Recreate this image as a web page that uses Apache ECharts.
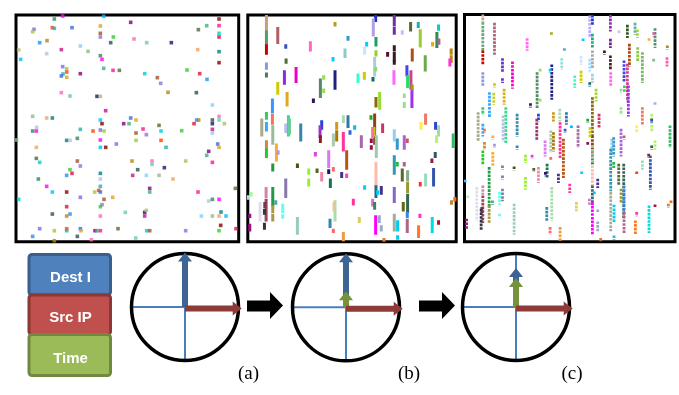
<!DOCTYPE html>
<html><head><meta charset="utf-8">
<script src="https://cdn.jsdelivr.net/npm/echarts@6/dist/echarts.min.js"></script>
<style>html,body{margin:0;padding:0;background:#fff}#c{width:679px;height:395px}</style>
</head><body><div id="c"></div>
<script>
// ---------- DATA ----------
// Panel (a): individual events [time, ip]
const panelA = [[163,57],[188,48],[311,49],[657,57],[102,88],[98,95],[157,83],[163,85],[216,83],[301,78],[392,67],[620,77],[657,77],[595,89],[657,100],[301,100],[301,111],[340,111],[657,111],[119,128],[141,122],[332,128],[402,117],[440,128],[514,128],[56,150],[184,149],[241,138],[264,154],[593,149],[657,155],[140,161],[301,167],[306,178],[62,178],[657,188],[188,200],[200,206],[200,216],[189,222],[184,228],[200,232],[241,221],[311,205],[339,211],[358,211],[434,221],[472,233],[482,250],[561,210],[599,221],[621,238],[504,277],[589,278],[184,278],[210,288],[291,289],[301,289],[317,332],[637,315],[98,349],[140,354],[157,354],[110,382],[98,393],[109,393],[301,360],[306,371],[301,390],[312,393],[279,393],[241,388],[392,354],[408,360],[371,371],[387,371],[429,387],[477,376],[483,393],[408,399],[439,404],[545,392],[582,371],[590,360],[596,360],[637,360],[657,349],[657,360],[637,371],[673,371],[637,388],[637,399],[50,420],[109,442],[200,421],[210,421],[232,415],[301,420],[301,442],[317,442],[349,432],[408,421],[483,421],[498,442],[653,432],[657,442],[626,454],[620,466],[637,487],[109,475],[119,487],[232,483],[241,498],[210,509],[216,520],[200,526],[396,483],[413,509],[456,483],[456,493],[493,503],[557,483],[398,526],[439,526],[477,526],[519,537],[301,520],[301,537],[115,537],[140,559],[157,576],[200,576],[241,592],[284,576],[296,571],[301,559],[301,576],[338,592],[449,565],[449,576],[594,576],[706,565],[56,598],[312,598],[306,614],[301,620],[200,620],[210,642],[200,648],[157,642],[301,648],[376,637],[434,637],[439,631],[434,648],[604,648],[637,648],[657,648],[663,636],[626,603],[637,598],[657,598],[678,648],[662,676],[119,686],[163,692],[200,686],[200,692],[241,686],[243,692],[285,692],[291,692],[301,692],[354,686],[440,692],[449,692],[557,692],[657,692],[708,686],[98,709],[163,722],[232,709],[274,719],[407,714]];

// Panel (b): compressed event runs [time, ipStart, ipEnd]
const panelB = [[79,45,88],[79,95,132],[79,137,160],[113,85,128],[137,137,142],[211,128,150],[285,70,75],[324,112,118],[380,130,135],[407,48,62],[400,60,105],[408,115,135],[463,45,75],[463,85,100],[487,95,100],[512,70,90],[535,70,80],[541,92,110],[541,117,138],[596,78,88],[591,100,140],[597,120,130],[578,130,135],[634,150,160],[634,170,185],[630,180,195],[138,180,187],[279,175,180],[315,150,170],[374,145,160],[408,155,165],[443,160,166],[463,140,150],[463,160,180],[463,185,190],[517,150,180],[556,170,210],[79,192,205],[79,222,228],[168,205,245],[133,215,250],[113,250,280],[141,280,315],[241,240,290],[251,230,235],[251,270,275],[220,300,305],[285,215,265],[354,225,245],[373,220,235],[399,235,240],[404,175,225],[407,205,210],[462,215,250],[501,200,225],[503,230,260],[513,215,265],[517,258,268],[516,275,320],[493,285,290],[493,310,320],[419,280,325],[408,295,318],[97,300,335],[79,340,355],[79,370,390],[97,345,370],[65,360,405],[98,380,430],[137,375,395],[145,350,405],[148,360,400],[182,375,420],[245,365,385],[240,380,410],[241,410,425],[290,370,385],[290,395,420],[310,350,365],[324,350,380],[330,395,400],[344,380,385],[393,350,355],[404,345,430],[402,385,405],[398,385,410],[428,375,395],[409,410,470],[394,420,425],[394,440,445],[463,392,420],[472,420,445],[493,410,445],[502,420,425],[557,345,370],[543,370,385],[587,370,385],[596,380,405],[590,410,425],[640,405,440],[79,425,445],[79,450,470],[109,435,480],[114,455,460],[280,405,435],[310,400,450],[320,455,505],[364,410,440],[226,460,465],[266,455,500],[172,495,500],[98,495,510],[206,510,520],[206,540,555],[231,510,515],[245,520,540],[266,512,518],[271,540,560],[280,505,510],[305,520,530],[320,525,530],[408,490,555],[408,560,590],[413,575,580],[424,562,580],[374,560,565],[463,470,520],[472,490,495],[487,510,540],[493,490,495],[503,515,540],[503,550,575],[503,585,635],[490,610,630],[541,550,555],[557,525,555],[581,508,555],[576,480,485],[586,460,470],[463,565,605],[137,540,590],[98,565,615],[107,605,610],[98,620,635],[98,645,660],[78,565,590],[78,600,660],[74,610,620],[60,610,660],[73,630,640],[73,672,685],[29,645,650],[29,675,690],[33,580,585],[25,590,595],[128,615,635],[128,647,652],[172,655,700],[270,660,680],[280,690,695],[285,605,660],[282,610,630],[340,600,612],[358,655,665],[398,600,615],[404,610,625],[407,650,700],[418,650,665],[424,680,690],[463,645,690],[473,665,690],[502,640,650],[502,660,695],[473,710,715],[540,645,650],[536,680,710],[577,655,695],[596,665,670],[310,700,720],[432,718,722],[635,605,610],[645,595,600]];
const panelBColors = ['#c8a07a','#5a9a6a','#cc0000','#b06060','#3355bb','#ff66cc','#b0a020','#3399cc','#00ccff','#2030c0','#b0a0e0','#20a060','#7030a0','#7030a0','#c0c0ff','#556b2f','#20b2aa','#9acd32','#9acd32','#00cccc','#2e8b57','#b06090','#ffa500','#b8860b','#b8860b','#ff33cc','#556b2f','#00ccff','#88cccc','#cce0ff','#9acd32','#551133','#3a1a1a','#3a1a1a','#3a1a1a','#b05010','#6aaa4a','#8899dd','#557755','#ee00cc','#8a2be2','#cccc00','#ddaa22','#558866','#99dd55','#99dd55','#331155','#202080','#33ffcc','#cccc00','#116666','#aaccdd','#88dd66','#ff66ff','#4444ee','#22dd66','#cc4488','#99aa00','#9933ee','#99dd99','#99dd99','#99dd33','#8b6914','#3399ff','#33cc66','#33aaff','#ee7755','#aaaa88','#99bb99','#bbbbee','#33dd88','#66cc99','#3388aa','#2244dd','#9933cc','#882222','#cc9922','#aa7700','#aaddaa','#3377aa','#3366cc','#00bbff','#22aa22','#8b4513','#cccc00','#ee77aa','#cc3366','#99ccaa','#991144','#991144','#99ccee','#3399cc','#aa66cc','#cc5566','#ee7766','#ffee44','#3344cc','#99ddaa','#bbee77','#33bb66','#cc8844','#22cc22','#ffaa33','#aa99dd','#aaccaa','#ff3399','#bb5511','#aa66aa','#dd44dd','#dd77ee','#445511','#229944','#99ee33','#99ee33','#556622','#ee88aa','#221166','#117755','#ff6666','#443388','#ff44bb','#ffbbaa','#336677','#00ccff','#443388','#00ccff','#3399aa','#22bb44','#556b2f','#aa6688','#88aa88','#999933','#336655','#666611','#ff3333','#99ddbb','#3355aa','#882244','#335566','#8866bb','#8877aa','#229944','#44aa99','#aa9944','#aa9944','#cc88aa','#994455','#773355','#ddddee','#333344','#333344','#991188','#991188','#99ff99','#aaddff','#66ffee','#66ffee','#99ccbb','#3388aa','#ff6666','#aaddaa','#ddcc99','#ff3399','#ddcc66','#cc77cc','#338855','#ff00ff','#99aacc','#99aacc','#aaaa99','#00ccee','#3388ee','#aa6688','#00ccee','#ff33cc','#ff7722','#00dddd','#aa1144','#ee9944','#ee7722','#bb8833','#ff6600'];

// Panel (c): stretched event runs [time, ipStart, ipEnd]
const panelC = [[83,45,62],[83,70,148],[83,155,190],[118,72,160],[142,178,215],[142,238,245],[172,188,262],[216,118,148],[289,100,104],[328,148,150],[384,119,121],[412,48,70],[404,50,110],[412,105,140],[412,155,200],[404,180,210],[378,172,190],[466,48,90],[466,120,140],[448,155,160],[466,170,205],[492,95,97],[517,78,110],[540,72,100],[547,92,110],[523,135,195],[548,145,180],[562,160,245],[582,118,120],[600,88,140],[596,100,105],[637,140,145],[636,175,195],[596,180,182],[83,220,255],[118,253,258],[103,280,350],[116,282,310],[147,270,310],[152,325,425],[144,350,420],[246,220,320],[255,210,212],[255,300,302],[226,313,318],[290,197,295],[285,210,215],[320,178,205],[359,230,260],[378,216,245],[404,250,255],[412,225,245],[412,295,410],[423,270,300],[467,220,255],[507,185,240],[517,195,300],[520,260,345],[498,270,275],[498,325,340],[508,260,275],[562,325,370],[590,345,390],[590,360,365],[600,310,312],[545,380,395],[645,380,440],[600,425,445],[590,440,445],[69,340,420],[83,325,340],[83,375,405],[88,390,395],[88,430,445],[83,455,490],[113,410,415],[113,460,495],[118,435,440],[186,345,405],[186,440,445],[250,345,360],[245,360,415],[295,340,360],[295,400,450],[287,395,455],[314,330,360],[334,340,370],[330,390,395],[349,380,382],[369,380,440],[315,370,470],[325,420,530],[398,360,365],[412,410,490],[405,385,410],[432,345,380],[398,430,432],[470,420,460],[476,415,465],[498,390,465],[507,410,415],[467,450,570],[476,490,500],[491,495,550],[506,495,650],[498,570,605],[581,465,470],[586,470,565],[562,485,505],[545,518,520],[412,440,490],[412,500,560],[412,560,610],[418,578,582],[428,540,560],[380,518,520],[344,555,575],[270,425,465],[231,468,472],[276,495,530],[250,505,545],[271,520,525],[287,475,478],[310,525,545],[211,468,485],[211,535,565],[236,508,512],[177,503,507],[142,500,505],[142,530,535],[142,570,600],[102,505,620],[112,605,610],[102,620,665],[83,560,580],[83,590,665],[80,625,635],[65,565,660],[78,630,685],[34,660,685],[38,590,592],[30,543,545],[133,580,610],[133,645,647],[177,615,700],[275,625,660],[290,565,660],[285,685,700],[315,685,720],[364,610,630],[403,600,610],[412,610,700],[428,632,634],[428,668,690],[467,580,690],[477,618,662],[507,560,640],[507,640,695],[477,710,715],[545,640,645],[541,665,700],[582,620,695],[600,617,620],[640,615,620],[648,605,608],[437,718,722]];
const panelCColors = ['#d0a080','#66aa77','#cc0000','#aa6677','#6633cc','#7722ee','#ff00cc','#ff66ee','#aaaa22','#55aacc','#00ccff','#2233cc','#bbaaff','#22aa77','#aaaaaa','#aaddff','#cce0ff','#8833aa','#772299','#441133','#442222','#ccbbff','#335522','#66aaaa','#99dd22','#aa4411','#88cc44','#77bb66','#ffaa33','#449966','#cc6699','#aa8833','#ff55bb','#88bb88','#8899dd','#cccc00','#33aaff','#cccc33','#ddaa22','#33dd88','#bbbbee','#558866','#99dd55','#99dd55','#331155','#202080','#00ccff','#99dddd','#33ffcc','#cccc00','#116666','#aaccdd','#8b6914','#99dd33','#ff66ff','#4444ee','#cc4488','#9933ee','#99dd99','#99dd99','#22dd66','#ee7766','#bbee77','#3344cc','#aaaaee','#ffee44','#33bb66','#bbee77','#335566','#aaaa88','#33cc66','#33aaff','#ee7755','#cc8844','#22cc22','#ffaa33','#ffaa33','#aa99dd','#3388aa','#3388aa','#2244dd','#993366','#cc9922','#aa7700','#aaccaa','#aaddaa','#3377aa','#3366cc','#00bbff','#aa66aa','#ff3399','#bb5511','#22aa22','#8b4513','#cccc00','#cc3366','#991144','#99ccee','#3399cc','#aa66cc','#cc5566','#3399aa','#22bb44','#556b2f','#336655','#999933','#882244','#3355aa','#99ddbb','#ff3333','#99ccaa','#ffbbaa','#336677','#00ccff','#443388','#00ccff','#ff3399','#dd77ee','#dd44dd','#117755','#ee88aa','#221166','#ff6666','#443388','#99ee33','#99ee33','#556622','#445511','#8877aa','#8877aa','#8877aa','#229944','#44aa99','#aa9944','#cc88aa','#994455','#773355','#ddddee','#333344','#991188','#99ff99','#44bbff','#66ffee','#66ffee','#99ccbb','#3388aa','#aaddaa','#ff6666','#ee9944','#ddcc66','#cc77cc','#ff00ff','#99aacc','#99aacc','#aaaa99','#00ccee','#3388ee','#aa6688','#00ccee','#ff33cc','#ff7722','#00dddd','#aa1144','#bb8833','#ff6600','#ee7722'];

// Dimension legend and vector lengths per stage (a),(b),(c)
const dimLabels = ['Dest I', 'Src IP', 'Time'];
const destLen = [1.02, 1.01, 0.73];
const srcLen  = [1.06, 1.06, 1.06];
const timeLen = [0, 0.30, 0.54];
const stageLabels = ['(a)', '(b)', '(c)'];

// ---------- STYLE ----------
const paletteA = ['#2e8b57','#ff00ff','#00bfff','#8b0000','#7b68ee','#9acd32','#ff4500','#20b2aa','#4169e1','#daa520','#800080','#3cb371','#ff1493','#556b2f','#00ced1','#a0522d','#9370db','#32cd32','#dc143c','#1e90ff','#b8860b','#2f4f4f','#ff69b4','#66cdaa','#191970','#bdb76b','#c71585','#87cefa','#8fbc8f','#f4a460','#008080','#b0c4de'];
const dimFill = ['#4f81bd', '#c0504d', '#9bbb59'];
const dimStroke = ['#3a5f8b', '#8c3836', '#71893f'];
const arrowColor = ['#3d6494', '#8e3a38', '#76923c'];

const chart = echarts.init(document.getElementById('c'), null, {renderer: 'canvas'});

function segRender(dashed, colors) {
  return function (params, api) {
    const x = api.value(0), a = api.value(1), b = api.value(2);
    const p1 = api.coord([x, a]), p2 = api.coord([x, b]);
    const ext = dashed ? 1.3 : 1.4;
    return {
      type: 'line',
      shape: {x1: p1[0], y1: p1[1] - ext, x2: p2[0], y2: p2[1] + ext},
      style: {stroke: colors[params.dataIndex], lineWidth: dashed ? 2.8 : 3,
              lineDash: dashed ? [2.6, 1.1] : null, lineCap: 'butt'}
    };
  };
}

function circleRender(params, api) {
  const c = api.coord([0, 0]);
  const r = api.coord([1, 0])[0] - c[0];
  return {
    type: 'group',
    children: [
      {type: 'line', shape: {x1: c[0] - r, y1: c[1], x2: c[0] + r, y2: c[1]}, style: {stroke: '#4a7ebb', lineWidth: 2}},
      {type: 'line', shape: {x1: c[0], y1: c[1] - r, x2: c[0], y2: c[1] + r}, style: {stroke: '#4a7ebb', lineWidth: 2}},
      {type: 'circle', shape: {cx: c[0], cy: c[1], r: r}, style: {stroke: '#000', lineWidth: 3.5, fill: null}}
    ]
  };
}

function arrowRender(params, api) {
  const dx = api.value(0), dy = api.value(1), k = api.value(2);
  const p0 = api.coord([0, 0]), p1 = api.coord([dx, dy]);
  let vx = p1[0] - p0[0], vy = p1[1] - p0[1];
  const len = Math.hypot(vx, vy);
  if (len < 1) return null;
  const ux = vx / len, uy = vy / len, nx = -uy, ny = ux;
  const sw = 3, hw = 7, hl = 9;
  const off = k === 1 ? [0, 1.5] : [0, 0];
  const bx = p1[0] - ux * hl, by = p1[1] - uy * hl;
  const pts = [
    [p0[0] + nx * sw, p0[1] + ny * sw],
    [bx + nx * sw, by + ny * sw],
    [bx + nx * hw, by + ny * hw],
    [p1[0], p1[1]],
    [bx - nx * hw, by - ny * hw],
    [bx - nx * sw, by - ny * sw],
    [p0[0] - nx * sw, p0[1] - ny * sw]
  ].map(p => [p[0] + off[0], p[1] + off[1]]);
  return {type: 'polygon', shape: {points: pts}, style: {fill: arrowColor[k]}};
}

const grids = [
  {left: 16, top: 15, width: 222.7, height: 226.7},
  {left: 247.8, top: 15, width: 208.4, height: 226.7},
  {left: 464.5, top: 14.5, width: 210.5, height: 227.2},
  {left: 131.5, top: 253.5, width: 107, height: 107},
  {left: 292.5, top: 253.8, width: 107, height: 107},
  {left: 462.5, top: 253.5, width: 107, height: 107}
].map((g, i) => Object.assign(g, i < 3 ? {show: true, borderColor: '#000', borderWidth: 3, backgroundColor: '#fff'} : {show: false}));

const xRanges = [[48, 716], [23, 649], [28, 660], [-1, 1], [-1, 1], [-1, 1]];
const yRanges = [[45, 725], [45, 725], [43, 725], [-1, 1], [-1, 1], [-1, 1]];

const series = [
  {type: 'scatter', xAxisIndex: 0, yAxisIndex: 0, symbol: 'rect', symbolSize: 3.6, silent: true,
   itemStyle: {color: p => paletteA[p.dataIndex % paletteA.length]}, data: panelA},
  {type: 'custom', xAxisIndex: 1, yAxisIndex: 1, silent: true, clip: true, renderItem: segRender(false, panelBColors), data: panelB},
  {type: 'custom', xAxisIndex: 2, yAxisIndex: 2, silent: true, clip: true, renderItem: segRender(true, panelCColors), data: panelC}
];
for (let i = 0; i < 3; i++) {
  series.push({type: 'custom', xAxisIndex: 3 + i, yAxisIndex: 3 + i, silent: true, renderItem: circleRender, data: [[0, 0]]});
  series.push({type: 'custom', xAxisIndex: 3 + i, yAxisIndex: 3 + i, silent: true, renderItem: arrowRender,
    data: [[0, destLen[i], 0], [0, timeLen[i], 2], [srcLen[i], 0, 1]]});
}

const graphic = [];
const boxY = [[254.5, 40.5], [295, 39.5], [334.5, 41]];
dimLabels.forEach((t, i) => {
  graphic.push({type: 'rect', shape: {x: 29, y: boxY[i][0], width: 81.5, height: boxY[i][1], r: 3},
    style: {fill: dimFill[i], stroke: dimStroke[i], lineWidth: 3}, z: 10});
});
dimLabels.forEach((t, i) => {
  graphic.push({type: 'text', x: 70.5, y: boxY[i][0] + boxY[i][1] / 2 + 3.5, z: 11,
    style: {text: t, fill: '#fff', font: 'bold 15px "Liberation Sans", Arial, sans-serif',
            textAlign: 'center', textVerticalAlign: 'middle', align: 'center', verticalAlign: 'middle'}});
});
graphic.push({type: 'polygon', shape: {points: [[247,300.5],[270,300.5],[270,292],[283,305.5],[270,319],[270,311.5],[247,311.5]]}, style: {fill: '#000'}});
graphic.push({type: 'polygon', shape: {points: [[419,300.5],[442,300.5],[442,292],[455,305.5],[442,319],[442,311.5],[419,311.5]]}, style: {fill: '#000'}});
const labelX = [248.5, 409, 572];
stageLabels.forEach((t, i) => {
  graphic.push({type: 'text', x: labelX[i], y: 374,
    style: {text: t, fill: '#000', font: '19px "Liberation Serif", "Times New Roman", serif',
            textAlign: 'center', textVerticalAlign: 'middle', align: 'center', verticalAlign: 'middle'}});
});

chart.setOption({
  animation: false,
  backgroundColor: '#fff',
  grid: grids,
  xAxis: xRanges.map((r, i) => ({type: 'value', gridIndex: i, min: r[0], max: r[1], show: false})),
  yAxis: yRanges.map((r, i) => ({type: 'value', gridIndex: i, min: r[0], max: r[1], show: false, inverse: i < 3})),
  series: series,
  graphic: graphic
});
</script></body></html>
